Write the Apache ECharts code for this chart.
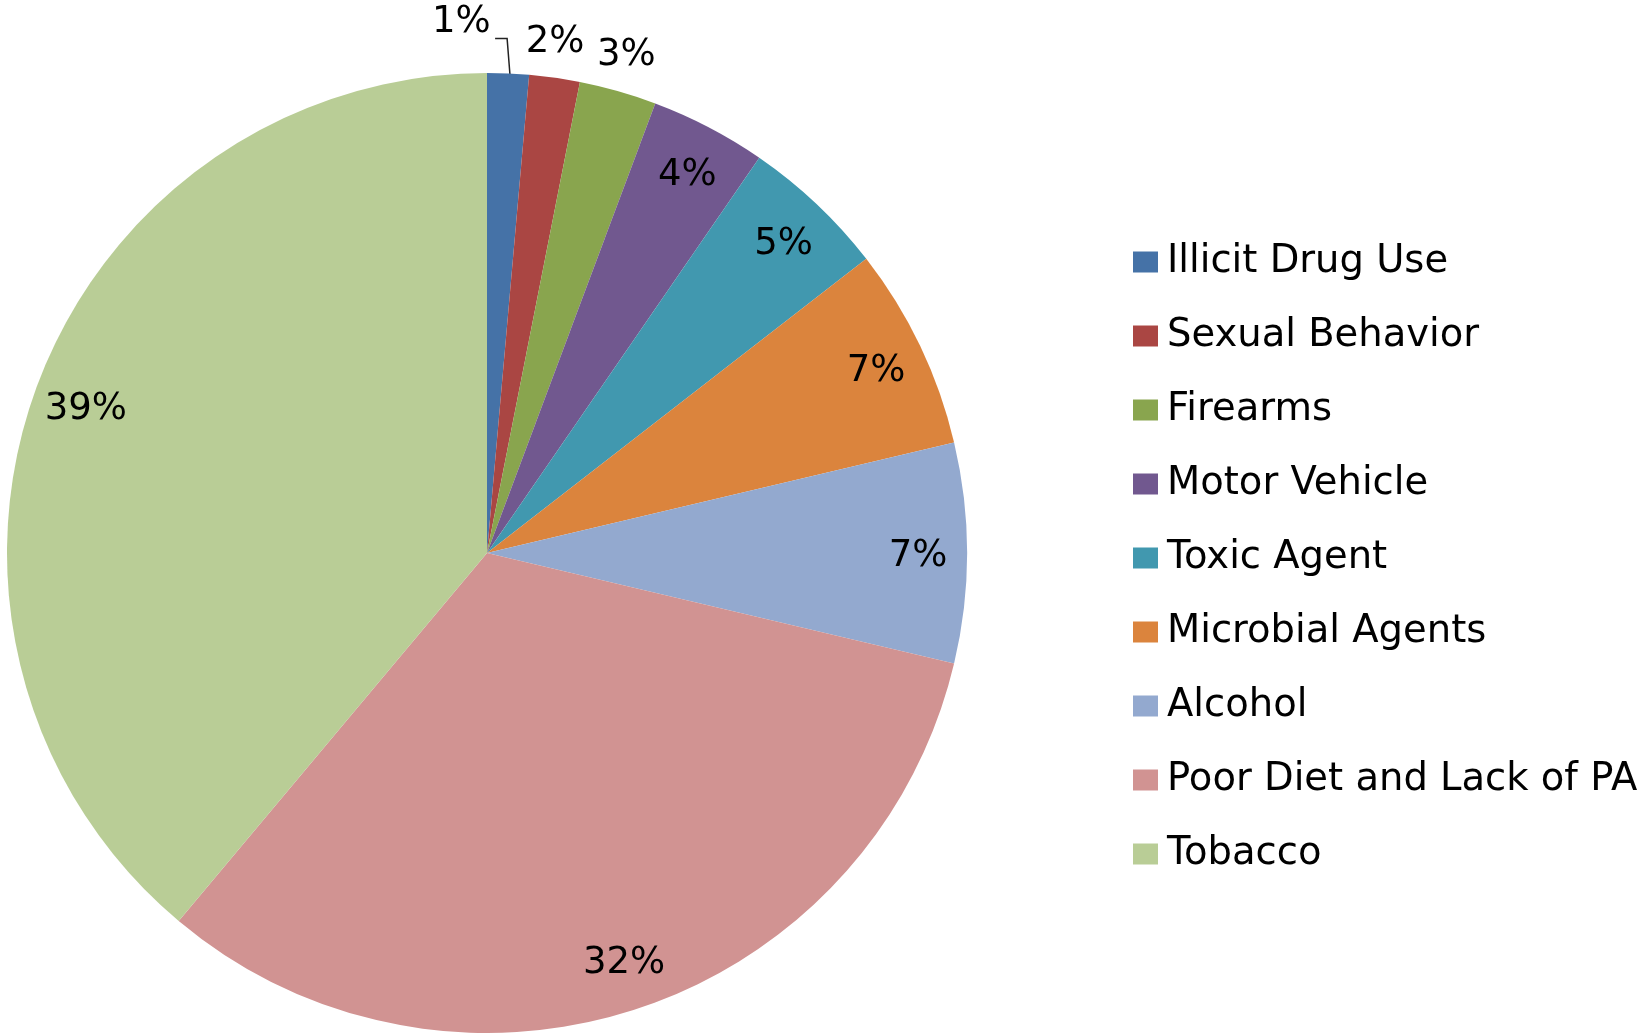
<!DOCTYPE html>
<html>
<head>
<meta charset="utf-8">
<script src="https://cdn.jsdelivr.net/npm/echarts@6/dist/echarts.min.js"></script>
<style>
  html, body { margin: 0; padding: 0; background: #fff; }
  #main { width: 1646px; height: 1033px; }
</style>
</head>
<body>
<div id="main"></div>
<script>
const causes = ['Illicit Drug Use', 'Sexual Behavior', 'Firearms', 'Motor Vehicle', 'Toxic Agent',
  'Microbial Agents', 'Alcohol', 'Poor Diet and Lack of PA', 'Tobacco'];
const shares = [1.4, 1.7, 2.6, 3.9, 4.9, 6.8, 7.4, 32.4, 38.9];
const colors = ['#4572A7', '#AA4643', '#89A54E', '#71588F', '#4198AF', '#DB843D', '#93A9CF', '#D19392', '#B9CD96'];

const font = '"DejaVu Sans", sans-serif';
const small = 3; // first slices get their label outside the pie
// small shifts for the outside labels, like excel placed them
const nudge = [{ dx: -84, dy: -32 }, { dx: -39, dy: -17 }, { dx: -34, dy: -18 }];

const myChart = echarts.init(document.getElementById('main'));

const pieData = causes.map((name, i) => ({ name: name, value: shares[i] }));
const labelData = causes.map((name, i) => {
  const item = { name: name, value: shares[i] };
  if (i < small) {
    item.label = { position: 'outside' };
    item.labelLine = { show: i === 0, length: 22, length2: 0 };
  }
  return item;
});

const placeLabel = (p) => {
  if (p.dataIndex >= small) return {};
  const out = Object.assign({}, nudge[p.dataIndex]);
  if (p.dataIndex === 0 && p.labelLinePoints) {
    // leader line: straight up from the slice, then a short step left
    const s = p.labelLinePoints[0];
    out.labelLinePoints = [s, [s[0] - 3, s[1] - 38], [s[0] - 15, s[1] - 38]];
  }
  return out;
};

myChart.setOption({
  animation: false,
  color: colors,
  legend: {
    orient: 'vertical',
    left: 1128,
    top: 237,
    icon: 'rect',
    itemWidth: 25,
    itemHeight: 21,
    itemGap: 34,
    selectedMode: false,
    textStyle: {
      fontFamily: font,
      fontSize: 38.5,
      lineHeight: 40,
      color: '#000',
      padding: [0, 0, 0, 4],
    },
    data: causes,
  },
  series: [
    {
      name: 'slices',
      type: 'pie',
      center: [487, 553],
      radius: [0, 480],
      startAngle: 90,
      clockwise: true,
      avoidLabelOverlap: false,
      label: { show: false },
      labelLine: { show: false },
      emphasis: { disabled: true },
      data: pieData,
    },
    {
      name: 'labels',
      type: 'pie',
      center: [489, 556],
      radius: [372, 480],
      startAngle: 90,
      clockwise: true,
      avoidLabelOverlap: false,
      silent: true,
      itemStyle: { color: 'rgba(0,0,0,0)' },
      label: {
        show: true,
        position: 'inside',
        fontFamily: font,
        fontSize: 37,
        color: '#000',
        formatter: (p) => Math.round(p.value) + '%',
      },
      labelLine: { show: false, lineStyle: { color: '#222', width: 1.5 } },
      labelLayout: placeLabel,
      emphasis: { disabled: true },
      data: labelData,
    },
  ],
});
</script>
</body>
</html>
